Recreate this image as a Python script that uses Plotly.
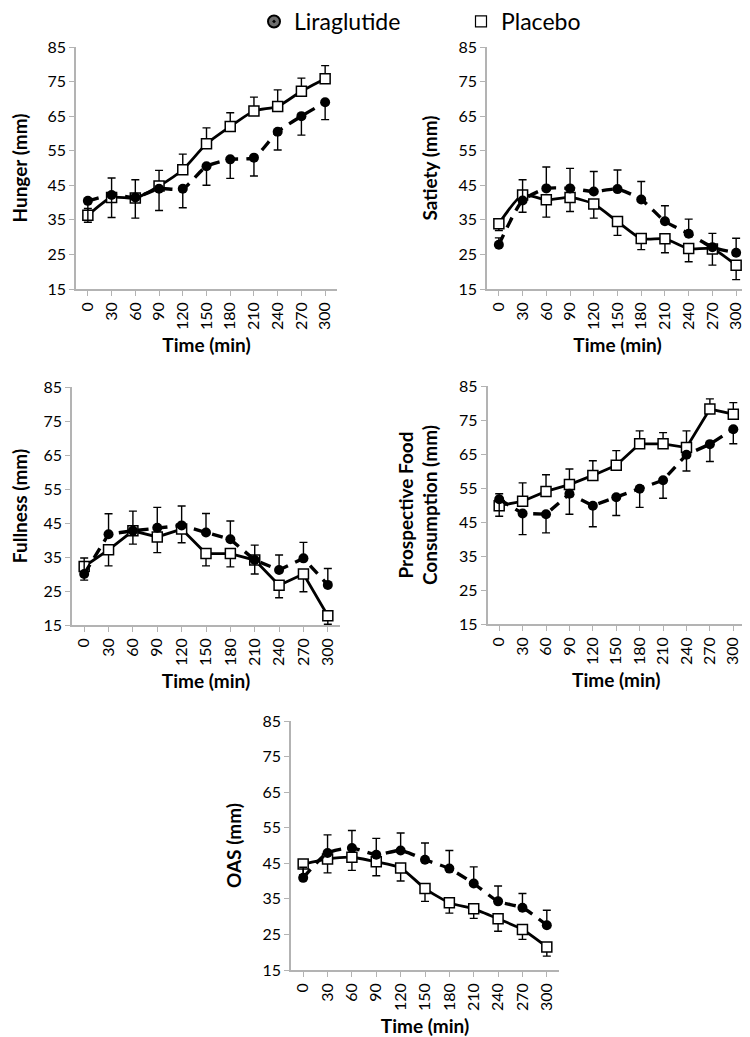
import plotly.graph_objects as go

time_min = [0, 30, 60, 90, 120, 150, 180, 210, 240, 270, 300]
y_ticks = [15, 25, 35, 45, 55, 65, 75, 85]

# Hunger
hunger_lira = [40.5, 42.2, 41.5, 44.0, 44.0, 50.5, 52.5, 53.0, 60.5, 65.0, 69.0]
hunger_lira_err = [6.2, 6.5, 6.0, 6.3, 5.5, 5.5, 5.5, 5.3, 5.3, 5.5, 5.0]
hunger_plac = [36.3, 41.5, 41.3, 44.8, 49.5, 57.0, 62.0, 66.5, 67.8, 72.2, 75.8]
hunger_plac_err = [2.0, 5.6, 5.3, 4.5, 4.5, 4.6, 4.0, 4.0, 4.8, 3.8, 3.8]

# Satiety
satiety_lira = [27.8, 40.6, 44.1, 44.1, 43.2, 43.9, 40.9, 34.6, 31.0, 27.1, 25.5]
satiety_lira_err = [2.0, 6.0, 6.2, 5.8, 5.8, 5.5, 5.2, 4.5, 4.2, 4.0, 4.2]
satiety_plac = [33.9, 42.2, 40.8, 41.5, 39.6, 34.5, 29.6, 29.5, 26.7, 26.6, 21.9]
satiety_plac_err = [2.0, 5.0, 5.0, 4.1, 4.1, 4.0, 3.2, 4.0, 3.8, 4.7, 4.2]

# Fullness
fullness_lira = [30.0, 41.7, 42.7, 43.6, 44.3, 42.2, 40.2, 34.1, 31.2, 34.6, 26.8]
fullness_lira_err = [4.7, 6.0, 5.8, 6.0, 5.7, 5.6, 5.4, 4.4, 4.4, 4.7, 4.8]
fullness_plac = [32.2, 37.1, 42.7, 40.9, 43.2, 36.0, 36.0, 34.1, 26.7, 30.0, 17.7]
fullness_plac_err = [4.0, 4.7, 3.9, 4.6, 4.0, 3.6, 3.9, 4.1, 3.7, 5.2, 2.5]

# Prospective food consumption
pfc_lira = [51.7, 47.5, 47.3, 53.3, 49.8, 52.3, 54.8, 57.3, 64.8, 67.9, 72.3]
pfc_lira_err = [5.0, 6.2, 5.5, 6.0, 6.2, 5.4, 5.5, 5.3, 4.8, 5.1, 4.3]
pfc_plac = [49.8, 51.1, 54.0, 56.0, 58.7, 61.7, 68.0, 68.0, 66.9, 78.2, 76.7]
pfc_plac_err = [3.5, 5.4, 4.9, 4.6, 4.3, 4.3, 3.8, 3.3, 4.9, 3.0, 3.4]

# OAS
oas_lira = [40.9, 47.9, 49.3, 47.4, 48.6, 46.0, 43.5, 39.3, 34.3, 32.5, 27.6]
oas_lira_err = [3.0, 5.1, 4.9, 4.6, 4.9, 4.7, 5.1, 4.7, 4.3, 4.0, 4.2]
oas_plac = [44.8, 46.2, 46.7, 45.4, 43.7, 37.9, 33.9, 32.2, 29.4, 26.4, 21.5]
oas_plac_err = [3.0, 3.9, 3.7, 3.9, 3.7, 3.6, 2.9, 2.7, 3.5, 2.8, 2.6]

FONT = "Lato"
OFF = 8                 # the page body adds an 8px margin
W, H = 750 - OFF, 1037 - OFF

# (title, lira, lira_err, plac, plac_err, lira_err_up, smooth, x px range, y px range) in page pixels
panels = [
    ("Hunger (mm)", hunger_lira, hunger_lira_err, hunger_plac, hunger_plac_err, False, True, (76, 337), (47, 289)),
    ("Satiety (mm)", satiety_lira, satiety_lira_err, satiety_plac, satiety_plac_err, True, True, (487, 748), (47, 289)),
    ("Fullness (mm)", fullness_lira, fullness_lira_err, fullness_plac, fullness_plac_err, True, False, (72, 340), (387, 625)),
    ("Prospective Food<br>Consumption (mm)", pfc_lira, pfc_lira_err, pfc_plac, pfc_plac_err, False, False, (487.5, 745), (386, 624)),
    ("OAS (mm)", oas_lira, oas_lira_err, oas_plac, oas_plac_err, True, True, (291, 559), (721, 970)),
]

fig = go.Figure()
layout = {}

for i, (title, lira, lira_e, plac, plac_e, lira_up, smooth, xr, yr) in enumerate(panels, start=1):
    xa = "x" if i == 1 else f"x{i}"
    ya = "y" if i == 1 else f"y{i}"
    shape = "spline" if smooth else "linear"
    zero = [0] * len(time_min)

    fig.add_trace(go.Scatter(
        x=time_min, y=plac, xaxis=xa, yaxis=ya, mode="lines+markers",
        line=dict(color="black", width=2.8, shape=shape, smoothing=0.6),
        marker=dict(symbol="square", size=10, color="white", line=dict(color="black", width=1.5)),
        error_y=dict(type="data", symmetric=False,
                     array=zero if lira_up else plac_e,
                     arrayminus=plac_e if lira_up else zero,
                     color="black", thickness=1.4, width=4),
        showlegend=False, hoverinfo="skip",
    ))
    fig.add_trace(go.Scatter(
        x=time_min, y=lira, xaxis=xa, yaxis=ya, mode="lines+markers",
        line=dict(color="black", width=3.4, dash="11px,8px", shape=shape, smoothing=0.6),
        marker=dict(symbol="circle", size=10, color="black"),
        error_y=dict(type="data", symmetric=False,
                     array=lira_e if lira_up else zero,
                     arrayminus=zero if lira_up else lira_e,
                     color="black", thickness=1.4, width=4),
        showlegend=False, hoverinfo="skip",
    ))

    layout["xaxis" if i == 1 else f"xaxis{i}"] = dict(
        domain=[(xr[0] - OFF) / W, (xr[1] - OFF) / W], anchor=ya,
        range=[-15, 315], tickvals=time_min, tickangle=-90,
        showgrid=False, zeroline=False, showline=True, linecolor="#b3b3b3", linewidth=1.5,
        ticks="outside", ticklen=5, tickcolor="#b3b3b3", tickwidth=1,
        tickfont=dict(family=FONT, size=16, color="black"),
        title=dict(text="<b>Time (min)</b>", font=dict(family=FONT, size=19, color="black"), standoff=10),
        automargin=False,
    )
    layout["yaxis" if i == 1 else f"yaxis{i}"] = dict(
        domain=[1 - (yr[1] - OFF) / H, 1 - (yr[0] - OFF) / H], anchor=xa,
        range=[15, 85], tickvals=y_ticks,
        showgrid=False, zeroline=False, showline=True, linecolor="#b3b3b3", linewidth=1.5,
        ticks="outside", ticklen=5, tickcolor="#b3b3b3", tickwidth=1,
        tickfont=dict(family=FONT, size=16, color="black"),
        title=dict(text=f"<b>{title}</b>", font=dict(family=FONT, size=19, color="black"), standoff=16),
        automargin=False,
    )

# legend entries
fig.add_trace(go.Scatter(
    x=[None], y=[None], mode="markers", name="Liraglutide",
    marker=dict(symbol="circle-dot", size=12, color="#6e6e6e", line=dict(color="black", width=2)),
))
fig.add_trace(go.Scatter(
    x=[None], y=[None], mode="markers", name="Placebo",
    marker=dict(symbol="square-open", size=11, color="black", line=dict(width=1.2)),
))

fig.update_layout(
    **layout,
    width=W, height=H,
    margin=dict(l=0, r=0, t=0, b=0, autoexpand=False),
    paper_bgcolor="white", plot_bgcolor="white",
    font=dict(family=FONT, color="black"),
    legend=dict(
        orientation="h", x=(254 - OFF) / W, xanchor="left", y=1.0 + 8 / H, yanchor="top",
        font=dict(family=FONT, size=23, color="black"),
        entrywidth=162, entrywidthmode="pixels", bgcolor="rgba(0,0,0,0)",
    ),
)

fig.write_html("out.html")
